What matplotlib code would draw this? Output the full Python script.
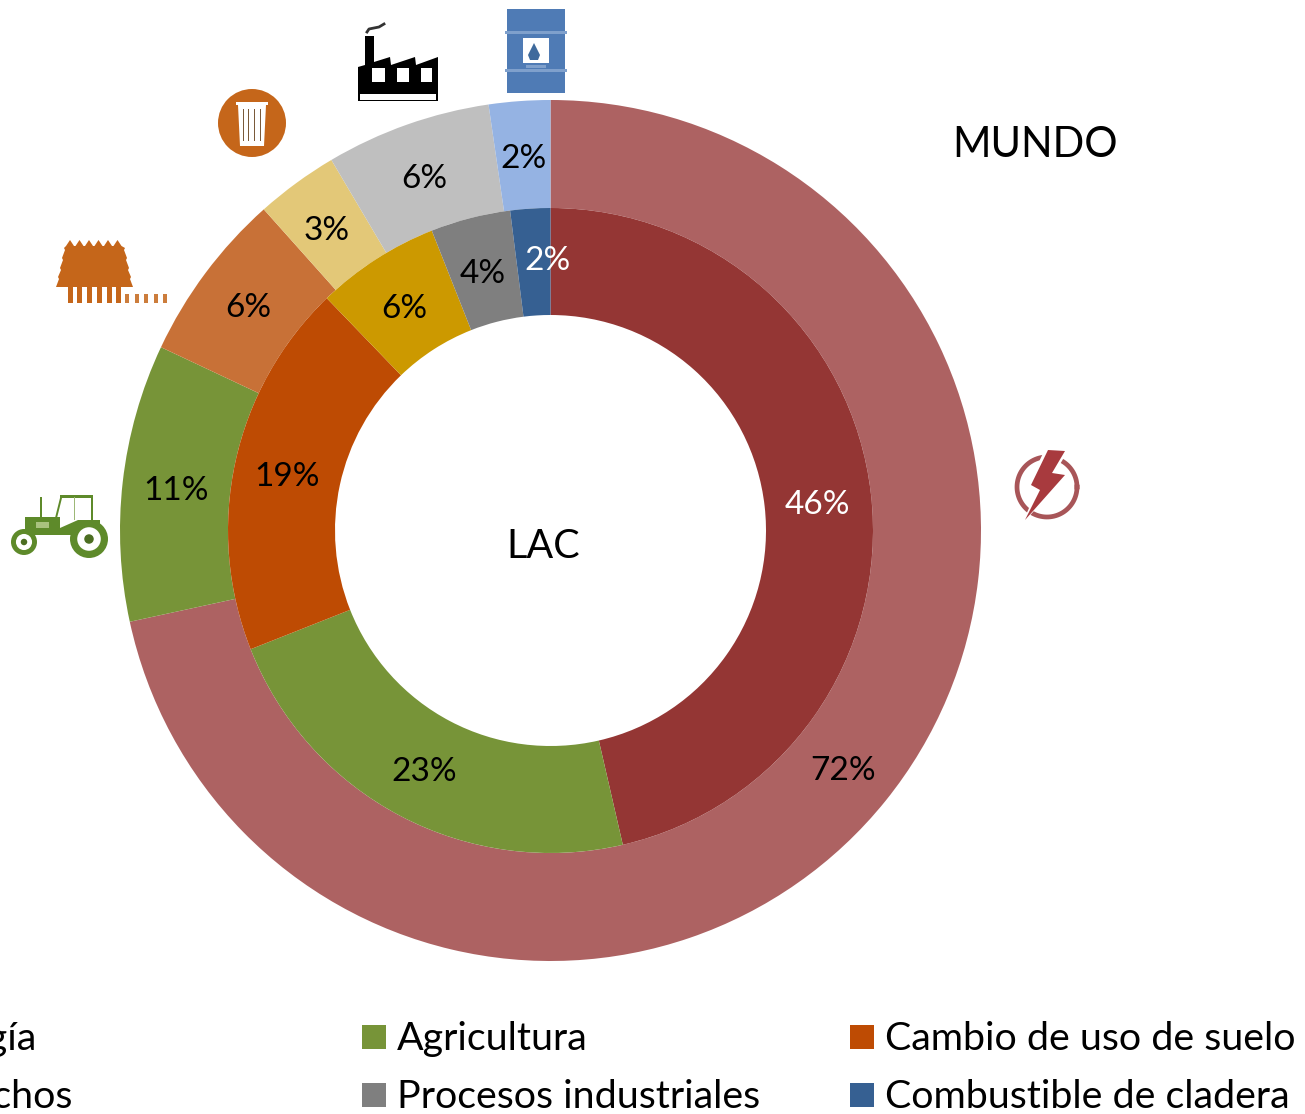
import matplotlib

matplotlib.use("Agg")
import matplotlib.pyplot as plt
import matplotlib.patches as mp
import numpy as np

plt.rcParams["font.family"] = ["Lato", "DejaVu Sans"]

W, H = 1305, 1114

# data
categories = ["Energía", "Agricultura", "Cambio de uso de suelo", "Desechos", "Procesos industriales", "Combustible de cladera"]
lac_values = [46.4, 22.6, 18.8, 6.2, 4, 2]
lac_labels = ["46%", "23%", "19%", "6%", "4%", "2%"]
mundo_values = [71.6, 10.4, 6.4, 3.1, 6.2, 2.3]
mundo_labels = ["72%", "11%", "6%", "3%", "6%", "2%"]

lac_colors = ["#943634", "#779438", "#BE4B03", "#CC9900", "#7F7F7F", "#366092"]
mundo_colors = ["#AD6262", "#779438", "#C87137", "#E3C878", "#BFBFBF", "#95B3E3"]
legend_colors = ["#943634", "#779438", "#BE4B03", "#C87137", "#7F7F7F", "#366092"]
lac_text = ["white", "black", "black", "black", "black", "white"]

lac_pos = [(817, 505), (424, 772), (287, 477), (404, 309), (483, 274), (547, 261)]
mundo_pos = [(843, 771), (176, 491), (248, 308), (327, 231), (424, 179), (524, 159)]


def Y(y):
    return H - y


fig = plt.figure(figsize=(W / 100, H / 100), dpi=100)
ax = fig.add_axes([0, 0, 1, 1])

ax.pie(mundo_values, radius=430.5, center=(550.5, Y(530.5)), startangle=90, counterclock=False,
       colors=mundo_colors, wedgeprops={"width": 108, "linewidth": 0})
ax.pie(lac_values, radius=322.5, center=(550.5, Y(530.5)), startangle=90, counterclock=False,
       colors=lac_colors, wedgeprops={"width": 107, "linewidth": 0})

ax.set_xlim(0, W)
ax.set_ylim(0, H)
ax.set_aspect("equal")
ax.axis("off")

for (x, y), s, c in zip(lac_pos, lac_labels, lac_text):
    ax.text(x, Y(y), s, color=c, fontsize=24, ha="center", va="center")
for (x, y), s in zip(mundo_pos, mundo_labels):
    ax.text(x, Y(y), s, color="black", fontsize=24, ha="center", va="center")

ax.text(543, Y(546), "LAC", fontsize=28.5, ha="center", va="center")
ax.text(1035, Y(145), "MUNDO", fontsize=30, ha="center", va="center")

# legend, cut off on the left like the source
ax.text(37, Y(1039), categories[0], fontsize=28.4, ha="right", va="center", clip_on=True)
ax.text(73, Y(1097), categories[3], fontsize=28.4, ha="right", va="center", clip_on=True)
for i, (x, y) in [(1, (362, 1037)), (2, (850, 1037)), (4, (362, 1095)), (5, (850, 1095))]:
    ax.add_patch(mp.Rectangle((x, Y(y) - 12), 24, 24, fc=legend_colors[i], lw=0))
    ax.text(x + 35, Y(y + 2), categories[i], fontsize=28.4, ha="left", va="center")


def poly(pts, color, z=3):
    ax.add_patch(mp.Polygon([(x, Y(y)) for x, y in pts], closed=True, fc=color, lw=0, zorder=z))


def rect(x0, y0, x1, y1, color, z=3):
    ax.add_patch(mp.Rectangle((x0, Y(y1)), x1 - x0, y1 - y0, fc=color, lw=0, zorder=z))


def circ(x, y, r, color, z=3):
    ax.add_patch(mp.Circle((x, Y(y)), r, fc=color, lw=0, zorder=z))


# barrel
BLUE = "#4F7BB5"
rect(507, 9, 565, 93, BLUE)
for y0 in (31, 69):
    rect(505, y0, 567, y0 + 3, "#7FA0CC")
rect(523, 38, 549, 63, "white", 4)
poly([(534, 43), (528, 55), (530, 60), (538, 60), (540, 55)], "#3F6A9C", 5)
rect(526, 65, 546, 68, "#7FA0CC", 4)

# factory
poly([(358, 101), (358, 67), (365, 65), (365, 36), (374, 36), (374, 62), (390, 57), (391, 65),
      (415, 57), (416, 65), (438, 57), (438, 101)], "black")
for x0, x1 in ((372, 385), (397, 409), (421, 432)):
    rect(x0, 68, x1, 82, "white", 4)
rect(360, 94, 436, 100, "white", 4)
ax.plot([367, 369, 374, 379, 384], [Y(32), Y(29), Y(28), Y(27), Y(24)], color="#333333", lw=2, zorder=3)

# bin
ORANGE = "#C5661A"
circ(252, 123, 34, ORANGE)
rect(236, 102, 268, 105, "white", 4)
poly([(238, 105), (266, 105), (264, 146), (240, 146)], "white", 4)
for x0 in (243, 248, 254, 260):
    rect(x0, 109, x0 + 1.3, 141, "#7A5A3A", 5)

# trees
xs = [56, 59, 58, 61, 60, 63, 62, 65, 64]
ys = [287, 279, 277, 270, 268, 260, 258, 250, 248]
left = list(zip(xs, ys))
right = [(189 - x, y) for x, y in left][::-1]
peaks = []
for x0 in (70, 79.5, 89, 98.5, 108, 117.5):
    peaks += [(x0 - 4, 246), (x0, 240), (x0 + 4, 246)]
poly(left + peaks + right, ORANGE)
for x0 in (68, 77, 87, 97, 107, 116):
    rect(x0, 286, x0 + 4.5, 303, ORANGE)
for x0 in (125, 135, 144, 154, 163):
    rect(x0, 294, x0 + 4, 303, "#CC7D3C")

# tractor
GREEN = "#5E8A2A"
rect(25, 517, 60, 535, GREEN)
poly([(60, 535), (100, 535), (100, 520), (78, 520), (60, 528)], GREEN)
rect(36, 522, 49, 528, "#A9C27E", 4)
rect(40, 497, 42, 517, GREEN)
rect(60, 495, 93, 498, GREEN)
poly([(60, 498), (62, 498), (57, 518), (55, 518)], GREEN)
rect(91, 497, 93, 522, GREEN)
rect(74, 497, 75, 520, "#9DB877")
for (x, y, r) in [(24, 542, 13), (89, 539, 19)]:
    circ(x, y, r, GREEN, 4)
    circ(x, y, r * 0.62, "white", 5)
    circ(x, y, r * 0.25, "#4C6E22", 6)

# energy
a = np.linspace(0, 2 * np.pi, 100)
ax.plot(1047 + 30 * np.cos(a), Y(487) + 30 * np.sin(a), color="#A85558", lw=3.4, zorder=3)
poly([(1046, 447), (1069, 449), (1056, 471), (1069, 473), (1022, 524), (1036, 492), (1027, 487)], "white", 4)
poly([(1048, 450), (1065, 451), (1052, 473), (1065, 475), (1025, 520), (1040, 490), (1031, 485)], "#A83A3E", 5)

fig.savefig("out.png", dpi=100)
